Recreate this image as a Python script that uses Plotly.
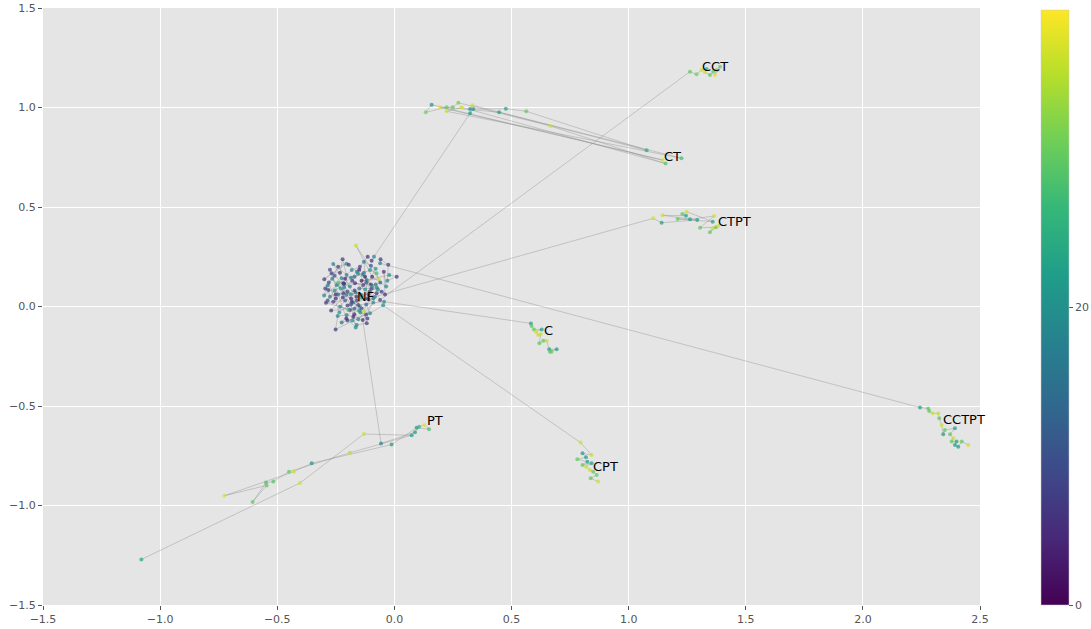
import plotly.graph_objects as go

# ---------------- data ----------------
# Each trajectory: points in the NF cloud, then the jump into a treatment cluster.
ct_x = [-0.250, -0.215, -0.180, -0.155, -0.120, -0.200, -0.235,
        -0.280, -0.240, -0.205, -0.299, -0.268, -0.232, -0.221, -0.204, -0.182, -0.147, -0.114, -0.097, -0.087,
        0.323, 0.337, 0.476, 0.563, 1.077, 0.447, 0.223, 0.134, 0.159, 1.144, 0.195, 0.249, 0.273, 0.666, 1.158,
        0.287, 0.223, 1.226, 0.333, 0.323]
ct_y = [0.040, 0.095, 0.130, 0.165, 0.120, 0.005, -0.030,
        0.120, 0.200, 0.215, 0.137, 0.167, 0.170, 0.237, 0.158, 0.183, 0.200, 0.250, 0.230, 0.250,
        0.971, 0.992, 0.994, 0.981, 0.785, 0.976, 1.001, 0.976, 1.014, 0.736, 1.001, 1.001, 1.024, 0.907, 0.718,
        1.001, 0.981, 0.745, 1.011, 0.992]
ct_c = [4, 16, 7, 19, 10, 6, 21,
        9, 8, 20, 6, 8, 6, 6, 17, 18, 7, 5, 6, 18,
        22, 20, 23, 30, 24, 22, 30, 31, 21, 37, 38, 30, 31, 37, 29,
        37, 37, 28, 37, 21]

cct_x = [-0.195, -0.160, -0.125, -0.090, -0.140, -0.175,
         -0.265, -0.230, -0.185, -0.246, -0.218, -0.190, -0.168, -0.133, -0.150, -0.097, -0.054, -0.076, -0.061,
         1.262, 1.290, 1.312, 1.333, 1.326, 1.347, 1.361, 1.376, 1.368, 1.390]
cct_y = [0.210, 0.175, 0.150, 0.040, -0.010, 0.020,
         0.140, 0.090, 0.060, 0.108, 0.117, 0.100, 0.117, 0.108, 0.090, 0.091, 0.074, 0.066, 0.033,
         1.180, 1.167, 1.188, 1.193, 1.177, 1.163, 1.180, 1.188, 1.163, 1.205]
cct_c = [6, 18, 3, 14, 8, 19,
         19, 22, 21, 17, 7, 18, 5, 6, 14, 7, 8, 6, 6,
         30, 31, 37, 24, 37, 30, 30, 31, 38, 30]

ctpt_x = [-0.115, -0.150, -0.185, -0.215, -0.255, -0.285,
          -0.300, -0.210, -0.160, -0.295, -0.282, -0.275, -0.250, -0.218, -0.200, -0.161, -0.140, -0.110, -0.083,
          1.105, 1.141, 1.293, 1.145, 1.245, 1.229, 1.248, 1.359, 1.209, 1.262, 1.365, 1.305, 1.373, 1.359, 1.347,
          1.383]
ctpt_y = [-0.060, -0.020, 0.040, 0.110, 0.155, 0.105,
          0.055, 0.140, 0.030, 0.090, 0.083, 0.049, 0.060, 0.066, 0.075, 0.049, 0.058, 0.060, 0.049,
          0.443, 0.421, 0.435, 0.458, 0.456, 0.465, 0.476, 0.426, 0.440, 0.438, 0.455, 0.396, 0.398, 0.393, 0.373,
          0.405]
ctpt_c = [7, 20, 5, 17, 9, 15,
          18, 3, 8, 7, 7, 18, 3, 6, 10, 4, 18, 9, 17,
          37, 22, 22, 37, 22, 30, 37, 22, 30, 22, 37, 30, 30, 37, 30,
          37]

c_x = [-0.135, -0.100, -0.070, -0.110, -0.165, -0.220,
       -0.270, -0.170, -0.145, -0.292, -0.261, -0.210, -0.232, -0.190, -0.197, -0.182, -0.147, -0.154, -0.044,
       0.583, 0.586, 0.596, 0.629, 0.604, 0.614, 0.625, 0.619, 0.636, 0.650, 0.661, 0.693, 0.664, 0.671]
c_y = [0.160, 0.110, 0.085, 0.035, 0.070, 0.045,
       -0.020, -0.010, -0.030, 0.019, 0.024, 0.030, -0.001, -0.018, -0.018, 0.024, -0.001, 0.008, 0.024,
       -0.085, -0.098, -0.115, -0.115, -0.127, -0.143, -0.138, -0.185, -0.172, -0.172, -0.215, -0.215, -0.227,
       -0.227]
c_c = [18, 5, 20, 8, 16, 4,
       5, 12, 19, 6, 6, 11, 17, 6, 28, 6, 18, 8, 18,
       22, 30, 30, 22, 37, 37, 37, 30, 30, 37, 22, 22, 30, 30]

cpt_x = [-0.285, -0.255, -0.215, -0.185, -0.150, -0.095,
         -0.225, -0.200, -0.120, -0.251, -0.242, -0.204, -0.175, -0.171, -0.180, -0.161, -0.118, -0.130, -0.120,
         -0.104, -0.048,
         0.795, 0.842, 0.803, 0.818, 0.781, 0.824, 0.803, 0.842, 0.818, 0.835, 0.849, 0.864, 0.838, 0.870]
cpt_y = [0.030, 0.080, 0.115, 0.145, 0.185, 0.100,
         -0.080, -0.070, -0.040, -0.115, -0.048, -0.043, -0.051, -0.039, -0.070, -0.093, -0.084, -0.023, 0.010,
         -0.034, 0.006,
         -0.684, -0.746, -0.738, -0.758, -0.768, -0.780, -0.796, -0.788, -0.805, -0.822, -0.830, -0.847, -0.863,
         -0.880]
cpt_c = [9, 19, 6, 17, 3, 21,
         16, 9, 7, 7, 17, 18, 5, 5, 20, 17, 6, 36, 13,
         18, 19,
         37, 37, 22, 22, 30, 22, 30, 22, 37, 37, 30, 30, 30, 37]

cctpt_x = [-0.205, -0.170, -0.140, -0.105, -0.075, -0.040,
           -0.045, -0.035, -0.095, -0.164, -0.067, -0.140, -0.118, -0.022, 0.010, -0.030, -0.026, -0.059, -0.061,
           2.244, 2.279, 2.283, 2.298, 2.322, 2.326, 2.336, 2.343, 2.350, 2.393, 2.372, 2.386, 2.379, 2.400, 2.393,
           2.407, 2.422, 2.450]
cctpt_y = [0.060, 0.080, 0.045, 0.075, 0.095, 0.060,
           0.175, 0.100, 0.150, 0.306, 0.137, 0.130, 0.133, 0.158, 0.150, 0.130, 0.210, 0.237, 0.217,
           -0.508, -0.512, -0.525, -0.537, -0.537, -0.562, -0.595, -0.642, -0.621, -0.612, -0.642, -0.662, -0.679,
           -0.679, -0.696, -0.705, -0.679, -0.696]
cctpt_c = [17, 6, 20, 8, 18, 5,
           6, 19, 4, 37, 37, 2, 18, 19, 6, 18, 8, 7, 18,
           22, 30, 30, 37, 37, 30, 37, 22, 30, 22, 30, 37, 30, 22, 22, 22, 30, 37]

pt_x = [-0.275, -0.240, -0.205, -0.165, -0.185, -0.115,
        -0.130, -0.100, -0.080, -0.125, -0.261, -0.225, -0.170, -0.130, -0.104, -0.076, -0.060, -0.080, -0.240,
        -0.154, -0.090, -0.135,
        -0.057, 0.088, 0.106, 0.128, 0.148, 0.095, -0.012, -0.353, -0.429, -0.726, -0.545, -0.605, -0.548,
        -0.517, -0.450, -0.190, 0.074, -0.130, -0.403, -1.080]
pt_y = [0.185, 0.060, -0.060, -0.105, 0.010, 0.040,
        0.225, 0.205, 0.190, 0.085, 0.214, 0.142, 0.150, 0.170, 0.183, 0.167, 0.120, 0.110, 0.120,
        -0.064, 0.020, -0.068,
        -0.688, -0.632, -0.604, -0.595, -0.617, -0.609, -0.694, -0.788, -0.830, -0.951, -0.899, -0.982, -0.885,
        -0.880, -0.830, -0.735, -0.647, -0.641, -0.887, -1.271]
pt_c = [8, 16, 4, 19, 10, 7,
        17, 9, 21, 20, 17, 17, 12, 15, 19, 28, 12, 16, 28,
        18, 20, 5,
        18, 22, 27, 38, 28, 22, 22, 20, 37, 38, 30, 30, 28,
        29, 30, 36, 22, 37, 37, 24]

traj_x = [ct_x, cct_x, ctpt_x, c_x, cpt_x, cctpt_x, pt_x]
traj_y = [ct_y, cct_y, ctpt_y, c_y, cpt_y, cctpt_y, pt_y]
traj_c = [ct_c, cct_c, ctpt_c, c_c, cpt_c, cctpt_c, pt_c]

labels = ["NF", "CCT", "CT", "CTPT", "C", "CCTPT", "CPT", "PT"]
label_x = [-0.165, 1.309, 1.146, 1.377, 0.634, 2.337, 0.843, 0.135]
label_y = [0.048, 1.204, 0.756, 0.425, -0.123, -0.570, -0.806, -0.575]

x_ticks = [-1.5, -1.0, -0.5, 0.0, 0.5, 1.0, 1.5, 2.0, 2.5]
y_ticks = [-1.5, -1.0, -0.5, 0.0, 0.5, 1.0, 1.5]
cbar_ticks = [0, 20]
c_min, c_max = 0, 40

# ---------------- figure ----------------
fig = go.Figure()

line_x, line_y = [], []
for xs, ys in zip(traj_x, traj_y):
    line_x += xs + [None]
    line_y += ys + [None]
fig.add_trace(go.Scatter(
    x=line_x, y=line_y, mode="lines",
    line=dict(color="rgba(140,140,140,0.4)", width=1),
    hoverinfo="skip", showlegend=False))

all_x = [v for xs in traj_x for v in xs]
all_y = [v for ys in traj_y for v in ys]
all_c = [v for cs in traj_c for v in cs]
fig.add_trace(go.Scatter(
    x=all_x, y=all_y, mode="markers", showlegend=False,
    marker=dict(size=4, color=all_c, colorscale="Viridis", cmin=c_min, cmax=c_max, opacity=0.7,
                line=dict(width=0),
                colorbar=dict(
                    tickvals=cbar_ticks, ticks="outside", ticklen=4, tickcolor="#555555",
                    tickfont=dict(family="DejaVu Sans", size=11, color="#555555"),
                    thickness=28, thicknessmode="pixels",
                    len=595, lenmode="pixels",
                    x=1.065, xanchor="left", xpad=0,
                    y=0.0, yanchor="bottom", ypad=0,
                    outlinewidth=0.5, outlinecolor="#cccccc"))))

for t, lx, ly in zip(labels, label_x, label_y):
    fig.add_annotation(x=lx, y=ly, text=t, showarrow=False, xanchor="left", yanchor="middle",
                       font=dict(family="DejaVu Sans", size=13, color="black"), borderpad=0)

axis_common = dict(showgrid=True, gridcolor="white", gridwidth=1, zeroline=False,
                   ticks="outside", ticklen=4, tickcolor="#555555", tickformat=".1f",
                   tickfont=dict(family="DejaVu Sans", size=11, color="#555555"),
                   showline=False, automargin=False)
fig.update_xaxes(range=[-1.5, 2.5], tickvals=x_ticks, **axis_common)
fig.update_yaxes(range=[-1.5, 1.5], tickvals=y_ticks, **axis_common)

fig.update_layout(
    width=1091, height=629,
    margin=dict(l=43, r=111, t=8, b=24, autoexpand=False),
    plot_bgcolor="#E5E5E5", paper_bgcolor="white",
    font=dict(family="DejaVu Sans"),
)

fig.write_html("out.html", config={"displayModeBar": False},
               post_script="document.body.style.margin='0';document.body.style.overflow='hidden';")
